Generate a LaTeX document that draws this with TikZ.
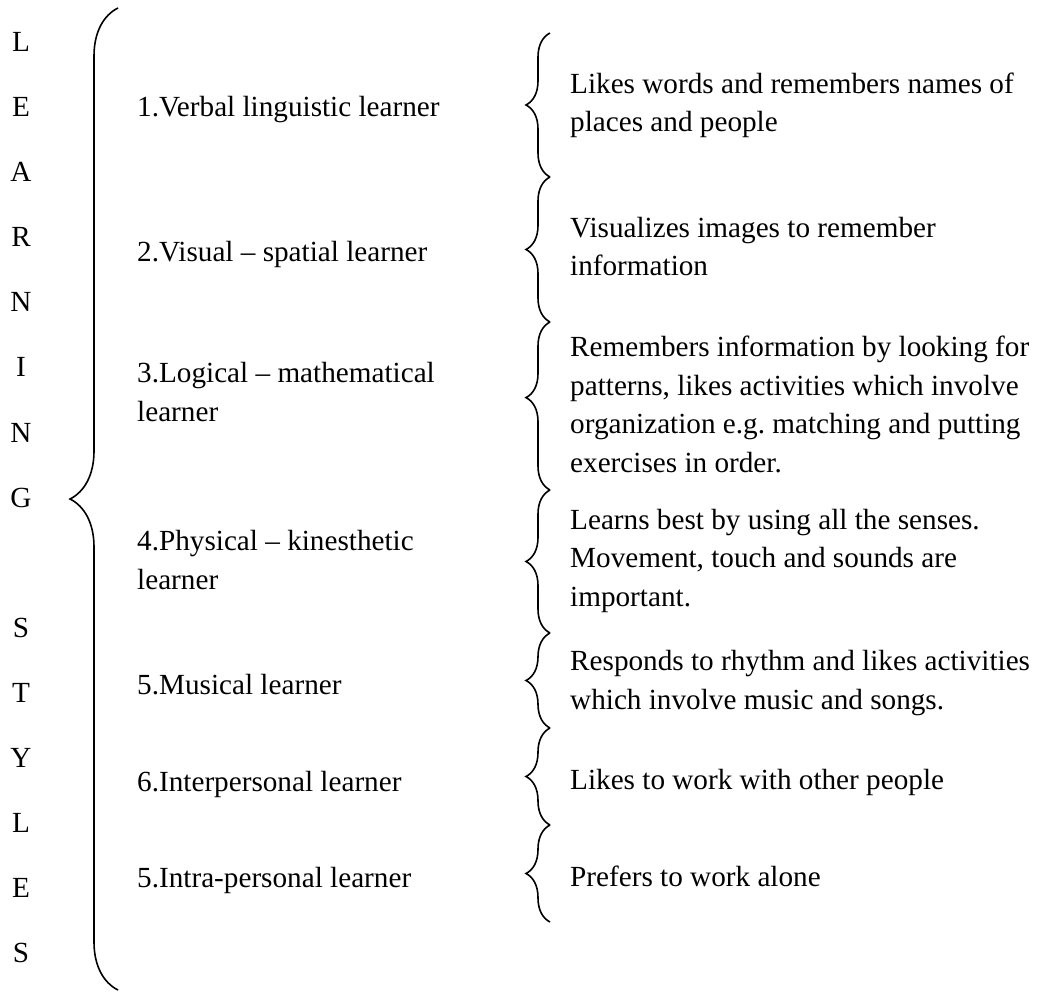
\documentclass[tikz,border=0pt]{standalone}
\usepackage{fontspec}
\setmainfont{Liberation Serif}
\usetikzlibrary{decorations.pathreplacing}

\tikzset{
  curly/.style={decorate, decoration={brace, amplitude=#1}, line width=1.6pt},
  curly/.default=24pt,
  txt/.style={anchor=base west, align=left, inner sep=0pt,
    font=\fontsize{29.2}{38.5}\selectfont\frenchspacing},
  lettr/.style={anchor=base, inner sep=0pt, font=\fontsize{29.2}{38.5}\selectfont},
}

\begin{document}
\begin{tikzpicture}[x=1pt, y=-1pt]
  \useasboundingbox (0,0) rectangle (1039,992);

  % variables
  \def\mx{137}
  \def\dx{570}
  \def\bx{550}

  % LEARNING STYLES, one letter per row
  \foreach \ch/\k in {L/0,E/1,A/2,R/3,N/4,I/5,N/6,G/7,S/9,T/10,Y/11,L/12,E/13,S/14}
    \node[lettr] (ch\k) at (21,{52+65*\k}) {\ch};

  % big brace
  \coordinate (bigtop) at (118,8);
  \coordinate (bigbot) at (118,990);
  \draw[curly=48pt] (bigbot) -- (bigtop);

  % learner types (base = last line)
  \node[txt] (type1) at (\mx,117) {1.Verbal linguistic learner};
  \node[txt] (type2) at (\mx,262) {2.Visual -- spatial learner};
  \node[txt] (type3) at (\mx,421) {3.Logical -- mathematical\\learner};
  \node[txt] (type4) at (\mx,589) {4.Physical -- kinesthetic\\learner};
  \node[txt] (type5) at (\mx,694) {5.Musical learner};
  \node[txt] (type6) at (\mx,791) {6.Interpersonal learner};
  \node[txt] (type7) at (\mx,887) {5.Intra-personal learner};

  % small braces
  \foreach \y [count=\i] in {33,177,322,490,633,728,825,922}
    \coordinate (b\i) at (\bx,\y);
  \draw[curly] (b2) -- (b1);
  \draw[curly] (b3) -- (b2);
  \draw[curly, decoration={aspect=0.55}] (b4) -- (b3);
  \draw[curly] (b5) -- (b4);
  \draw[curly] (b6) -- (b5);
  \draw[curly] (b7) -- (b6);
  \draw[curly] (b8) -- (b7);

  % descriptions
  \node[txt] (desc1) at (\dx,132) {Likes words and remembers names of\\places and people};
  \node[txt] (desc2) at (\dx,276) {Visualizes images to remember\\information};
  \node[txt] (desc3) at (\dx,472) {Remembers information by looking for\\patterns, likes activities which involve\\organization e.g. matching and putting\\exercises in order.};
  \node[txt] (desc4) at (\dx,606) {Learns best by using all the senses.\\Movement, touch and sounds are\\important.};
  \node[txt] (desc5) at (\dx,709) {Responds to rhythm and likes activities\\which involve music and songs.};
  \node[txt] (desc6) at (\dx,789) {Likes to work with other people};
  \node[txt] (desc7) at (\dx,886) {Prefers to work alone};

\end{tikzpicture}
\end{document}
